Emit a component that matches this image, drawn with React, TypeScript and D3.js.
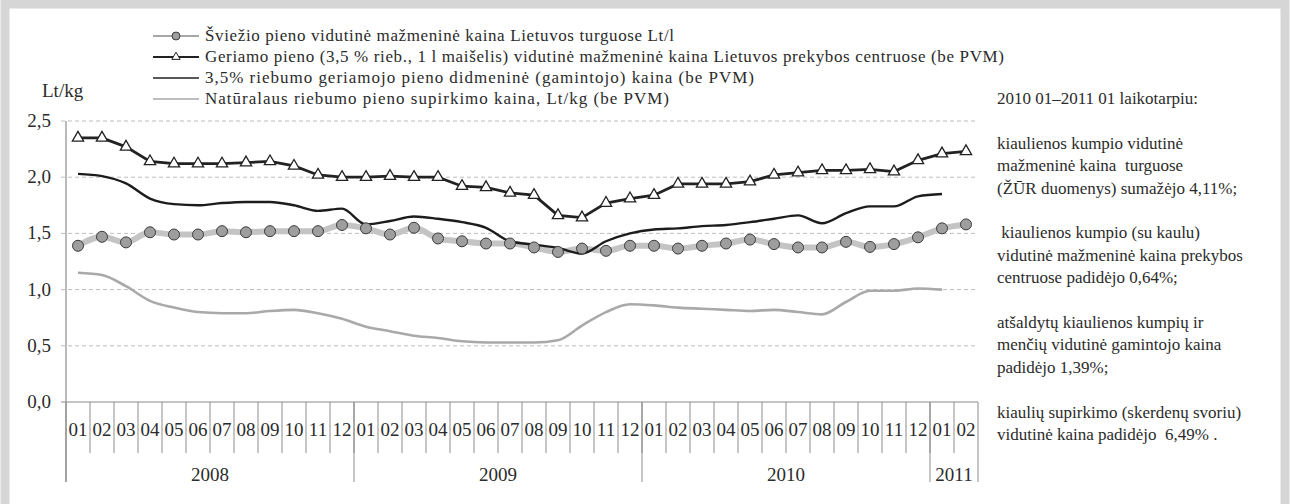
import React, { useRef, useEffect } from 'react';
import * as d3 from 'd3';

const months = [
    '01', '02', '03', '04', '05', '06', '07', '08', '09', '10', '11', '12',
    '01', '02', '03', '04', '05', '06', '07', '08', '09', '10', '11', '12',
    '01', '02', '03', '04', '05', '06', '07', '08', '09', '10', '11', '12',
    '01', '02',
];
const years = ['2008', '2009', '2010', '2011'];
const yearMonths = [12, 12, 12, 2];
const yTicks = [0, 0.5, 1, 1.5, 2, 2.5];

// Šviežio pieno vidutinė mažmeninė kaina Lietuvos turguose
const freshMilk = [
    1.39, 1.47, 1.42, 1.51, 1.49, 1.49, 1.52, 1.51, 1.52, 1.52, 1.52, 1.575,
    1.545, 1.49, 1.55, 1.455, 1.43, 1.41, 1.41, 1.375, 1.335, 1.365, 1.345, 1.39,
    1.39, 1.365, 1.39, 1.41, 1.445, 1.405, 1.375, 1.375, 1.425, 1.38, 1.405, 1.465,
    1.545, 1.58,
];
// Geriamo pieno vidutinė mažmeninė kaina prekybos centruose
const retailMilk = [
    2.35, 2.35, 2.27, 2.14, 2.12, 2.12, 2.12, 2.13, 2.14, 2.10, 2.02, 2.00,
    2.00, 2.01, 2.00, 2.00, 1.92, 1.91, 1.86, 1.84, 1.66, 1.64, 1.77, 1.81,
    1.84, 1.94, 1.94, 1.94, 1.96, 2.02, 2.04, 2.06, 2.06, 2.07, 2.05, 2.15,
    2.21, 2.23,
];
// didmeninė (gamintojo) kaina
const wholesale = [
    2.03, 2.01, 1.945, 1.81, 1.76, 1.75, 1.77, 1.78, 1.78, 1.75, 1.70, 1.72,
    1.58, 1.61, 1.65, 1.63, 1.60, 1.55, 1.43, 1.40, 1.37, 1.32, 1.43, 1.50,
    1.535, 1.545, 1.565, 1.575, 1.60, 1.63, 1.66, 1.59, 1.68, 1.74, 1.74, 1.83,
    1.85, null,
];
// supirkimo kaina
const purchase = [
    1.15, 1.13, 1.03, 0.90, 0.84, 0.80, 0.79, 0.79, 0.81, 0.82, 0.79, 0.74,
    0.67, 0.63, 0.59, 0.57, 0.54, 0.53, 0.53, 0.53, 0.55, 0.68, 0.80, 0.87,
    0.86, 0.84, 0.83, 0.82, 0.81, 0.82, 0.80, 0.78, 0.89, 0.99, 0.99, 1.01,
    1.00, null,
];

const legendLabels = [
    'Šviežio pieno vidutinė mažmeninė kaina Lietuvos turguose Lt/l',
    'Geriamo pieno (3,5 % rieb., 1 l maišelis) vidutinė mažmeninė kaina Lietuvos prekybos centruose (be PVM)',
    '3,5% riebumo geriamojo pieno didmeninė (gamintojo) kaina (be PVM)',
    'Natūralaus riebumo pieno supirkimo kaina, Lt/kg (be PVM)',
];
// where each legend line of the scan ends
const legendEnds = [674, 1004, 754, 669];

const noteLines = [
    '2010 01–2011 01 laikotarpiu:',
    '',
    'kiaulienos kumpio vidutinė',
    'mažmeninė kaina  turguose',
    '(ŽŪR duomenys) sumažėjo 4,11%;',
    '',
    ' kiaulienos kumpio (su kaulu)',
    'vidutinė mažmeninė kaina prekybos',
    'centruose padidėjo 0,64%;',
    '',
    'atšaldytų kiaulienos kumpių ir',
    'menčių vidutinė gamintojo kaina',
    'padidėjo 1,39%;',
    '',
    'kiaulių supirkimo (skerdenų svoriu)',
    'vidutinė kaina padidėjo  6,49% .',
];

const W = 1290;
const H = 504;
const FONT = "'Liberation Serif', 'Times New Roman', 'DejaVu Serif', serif";
const TEXT = '#2b2b2b';

const App = () => {
    const svgRef = useRef(null);

    useEffect(() => {
        if (!svgRef.current) {
            return;
        }
        const svg = d3.select(svgRef.current);
        svg.selectAll('*').remove();

        const left = 66;
        const right = 978;
        const top = 121;
        const bottom = 402;

        const x = d3.scaleBand().domain(d3.range(months.length)).range([left, right]).padding(0);
        const y = d3.scaleLinear().domain([0, 2.5]).range([bottom, top]);
        const cx = (i) => x(i) + x.bandwidth() / 2;

        // frame
        svg.append('rect').attr('width', W).attr('height', H).attr('fill', '#fff');
        svg.append('rect')
            .attr('x', 5).attr('y', 4).attr('width', 1280).attr('height', 520)
            .attr('fill', 'none').attr('stroke', '#d6d6d6').attr('stroke-width', 9);

        // grid
        svg.append('g').selectAll('line')
            .data(yTicks.filter(d => d > 0))
            .join('line')
            .attr('x1', left - 5).attr('x2', right)
            .attr('y1', d => y(d)).attr('y2', d => y(d))
            .attr('stroke', '#bdbdbd').attr('stroke-dasharray', '4,3');

        // y labels
        svg.append('g').selectAll('text')
            .data(yTicks)
            .join('text')
            .attr('x', 51).attr('y', d => y(d) + 6)
            .attr('text-anchor', 'end')
            .style('font-family', FONT).style('font-size', '19px').attr('fill', TEXT)
            .text(d => d3.format('.1f')(d).replace('.', ','));

        svg.append('text')
            .attr('x', 42).attr('y', 97)
            .style('font-family', FONT).style('font-size', '19px').attr('fill', TEXT)
            .text('Lt/kg');

        // axes
        svg.append('line').attr('x1', left).attr('x2', left).attr('y1', top).attr('y2', 482)
            .attr('stroke', '#8c8c8c').attr('stroke-width', 1.2);
        svg.append('line').attr('x1', left - 5).attr('x2', right).attr('y1', bottom).attr('y2', bottom)
            .attr('stroke', '#8c8c8c').attr('stroke-width', 1.2);

        const xAxis = svg.append('g');
        xAxis.selectAll('line.tick')
            .data(d3.range(1, months.length))
            .join('line')
            .attr('class', 'tick')
            .attr('x1', d => x(d)).attr('x2', d => x(d))
            .attr('y1', bottom).attr('y2', 453)
            .attr('stroke', '#8c8c8c');
        xAxis.selectAll('text.month')
            .data(months)
            .join('text')
            .attr('class', 'month')
            .attr('x', (d, i) => cx(i)).attr('y', 436)
            .attr('text-anchor', 'middle')
            .style('font-family', FONT).style('font-size', '19px').attr('fill', TEXT)
            .text(d => d);

        const starts = yearMonths.map((n, i) => d3.sum(yearMonths.slice(0, i)));
        const edges = [...starts, months.length];
        xAxis.selectAll('line.year')
            .data(edges)
            .join('line')
            .attr('class', 'year')
            .attr('x1', d => (d < months.length ? x(d) : right))
            .attr('x2', d => (d < months.length ? x(d) : right))
            .attr('y1', bottom).attr('y2', 482)
            .attr('stroke', '#8c8c8c');
        xAxis.selectAll('text.yearLabel')
            .data(years)
            .join('text')
            .attr('class', 'yearLabel')
            .attr('x', (d, i) => x(starts[i]) + (yearMonths[i] * x.bandwidth()) / 2)
            .attr('y', 481)
            .attr('text-anchor', 'middle')
            .style('font-family', FONT).style('font-size', '19px').attr('fill', TEXT)
            .text(d => d);

        const smooth = d3.line()
            .defined(d => d != null)
            .x((d, i) => cx(i))
            .y(d => y(d))
            .curve(d3.curveMonotoneX);

        // purchase price
        svg.append('path').datum(purchase).attr('d', smooth)
            .attr('fill', 'none').attr('stroke', '#a9a9a9').attr('stroke-width', 2.6);

        // fresh milk (circles)
        svg.append('path').datum(freshMilk).attr('d', smooth)
            .attr('fill', 'none').attr('stroke', '#c4c4c4').attr('stroke-width', 6);

        // wholesale
        svg.append('path').datum(wholesale).attr('d', smooth)
            .attr('fill', 'none').attr('stroke', '#1c1c1c').attr('stroke-width', 2.4);

        svg.append('g').selectAll('circle')
            .data(freshMilk)
            .join('circle')
            .attr('cx', (d, i) => cx(i)).attr('cy', d => y(d)).attr('r', 5.5)
            .attr('fill', '#9e9e9e').attr('stroke', '#3c3c3c').attr('stroke-width', 1);

        // retail milk (triangles)
        svg.append('path').datum(retailMilk)
            .attr('d', d3.line().x((d, i) => cx(i)).y(d => y(d)))
            .attr('fill', 'none').attr('stroke', '#222').attr('stroke-width', 2.8);

        const tri = d3.symbol().type(d3.symbolTriangle).size(55);
        svg.append('g').selectAll('path')
            .data(retailMilk)
            .join('path')
            .attr('transform', (d, i) => `translate(${cx(i)},${y(d)})`)
            .attr('d', tri)
            .attr('fill', '#fff').attr('stroke', '#222').attr('stroke-width', 1.3);

        // legend
        const legendY = [36, 57, 78, 99];
        const lg = svg.append('g');
        const l0 = 153;
        const l1 = 199;
        const lm = 176;
        const textX = 205;
        lg.selectAll('line')
            .data(legendY)
            .join('line')
            .attr('x1', l0).attr('x2', l1)
            .attr('y1', d => d).attr('y2', d => d)
            .attr('stroke', (d, i) => (i === 0 ? '#8a8a8a' : i === 3 ? '#a9a9a9' : '#222'))
            .attr('stroke-width', (d, i) => (i === 1 ? 2 : 1.6));
        lg.append('circle').attr('cx', lm).attr('cy', legendY[0]).attr('r', 4)
            .attr('fill', '#9e9e9e').attr('stroke', '#3c3c3c');
        lg.append('path').attr('transform', `translate(${lm},${legendY[1]})`)
            .attr('d', d3.symbol().type(d3.symbolTriangle).size(30))
            .attr('fill', '#fff').attr('stroke', '#222');
        lg.selectAll('text')
            .data(legendLabels)
            .join('text')
            .attr('x', textX).attr('y', (d, i) => legendY[i] + 5)
            .attr('textLength', (d, i) => legendEnds[i] - textX)
            .attr('lengthAdjust', 'spacing')
            .style('font-family', FONT).style('font-size', '17px').attr('fill', TEXT)
            .text(d => d);

        // notes at right
        svg.append('g').selectAll('text')
            .data(noteLines)
            .join('text')
            .attr('x', 997)
            .attr('y', (d, i) => 104 + i * 22.4)
            .style('white-space', 'pre')
            .style('font-family', FONT).style('font-size', '17px').attr('fill', TEXT)
            .text(d => d);
    }, []);

    return (
        <svg
            ref={svgRef}
            width={W}
            height={H}
            style={{ position: 'absolute', left: 0, top: 0, display: 'block' }}
        ></svg>
    );
};

export default App;
